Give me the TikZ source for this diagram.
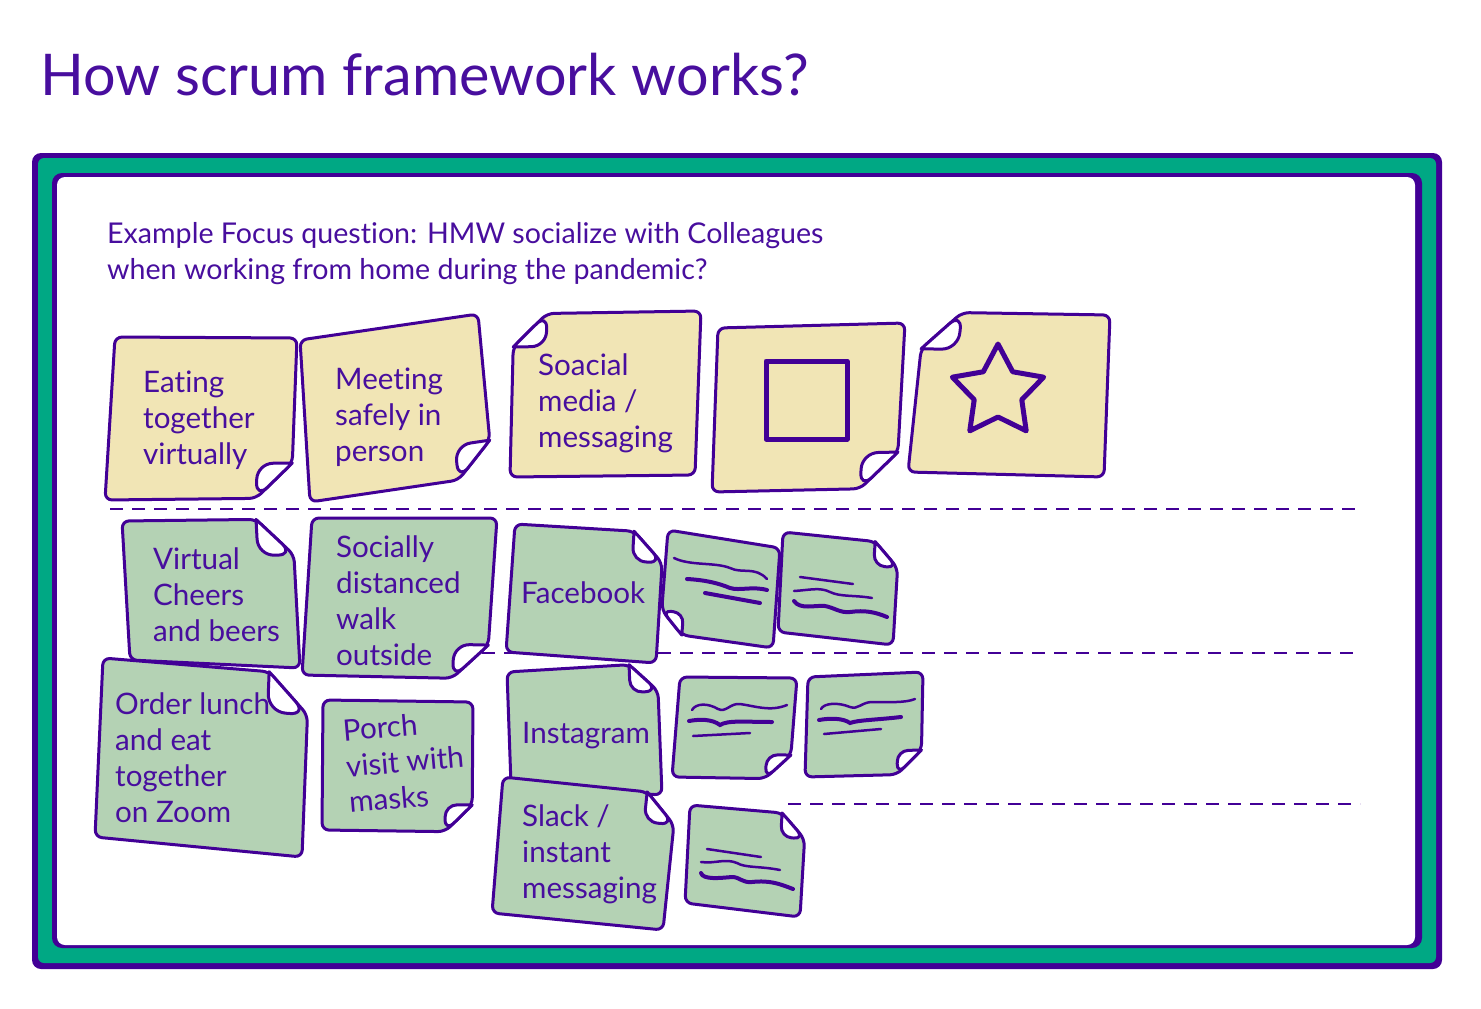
\documentclass[tikz,border=0pt]{standalone}
\usepackage{fontspec}
\setmainfont{Lato}[Ligatures=CommonOff]
\usetikzlibrary{calc}
\definecolor{ink}{RGB}{66,0,150}
\definecolor{txt}{RGB}{72,14,158}
\definecolor{framegreen}{RGB}{0,168,132}
\definecolor{yel}{RGB}{241,229,181}
\definecolor{grn}{RGB}{180,210,180}
\tikzset{
 noteline/.style={draw=ink, line width=3pt, line join=round, rounded corners=7pt},
 flapline/.style={draw=ink, line width=3pt, line join=round, fill=white},
 notetext/.style={text=txt, font=\fontsize{29.6}{36}\selectfont, align=left, anchor=base west, inner sep=0pt},
 squig/.style={draw=ink, line width=2.5pt, line cap=round},
 squigb/.style={draw=ink, line width=4pt, line cap=round},
 divider/.style={draw=ink, line width=2pt, dash pattern=on 13pt off 9pt},
 iconline/.style={draw=ink, line width=5pt, line join=round},
}
\newcommand\stickynote[6]{%
 \coordinate (p1) at #2; \coordinate (p2) at #3; \coordinate (p3) at #4; \coordinate (p4) at #5;
 \coordinate (fa) at ($(p3)!#6pt!(p2)$);
 \coordinate (fb) at ($(p3)!#6pt!(p4)$);
 \coordinate (fc) at ($(fa)+(fb)-(p3)$);
 \pgfmathsetmacro\flaprad{0.45*#6}%
 \path[noteline, fill=#1] (p1) -- (p2) -- (fa) -- (fb) -- (p4) -- cycle;
 \path[flapline] (fa) [rounded corners=\flaprad pt] -- (fc) -- (fb) [sharp corners] -- cycle;
}
\begin{document}
\begin{tikzpicture}[x=1pt,y=-1pt]
\useasboundingbox (0,0) rectangle (1481,1009);
% title
\node[text=txt, font=\fontsize{57.5}{68}\selectfont, anchor=base west, inner sep=0pt] (title) at (40,95) {How scrum framework works?};
% board
\fill[ink, rounded corners=9pt] (32,153) rectangle (1442,969);
\fill[framegreen, rounded corners=6pt] (38,158) rectangle (1436,963);
\fill[ink, rounded corners=10pt] (52,173) rectangle (1422,948);
\fill[white, rounded corners=8pt] (57,177) rectangle (1415,945);
\node[notetext, font=\fontsize{28.6}{36}\selectfont] (focus) at (107,279) {Example Focus question: HMW socialize with Colleagues\\when working from home during the pandemic?};
% dividers
\coordinate (d1a) at (110,509); \coordinate (d1b) at (1355,509);
\coordinate (d2a) at (482,653); \coordinate (d2b) at (1355,653);
\coordinate (d3a) at (788,804); \coordinate (d3b) at (1360,804);
\draw[divider] (d1a) -- (d1b);
\draw[divider] (d2a) -- (d2b);
\draw[divider] (d3a) -- (d3b);
% row 1
\stickynote{yel}{(115,337)}{(297,338)}{(291,498)}{(105,500)}{35}
\node[notetext] (eating) at (143,464) {Eating\\together\\virtually};
\stickynote{yel}{(300,340)}{(478,314)}{(493,475)}{(310,502)}{35}
\node[notetext] (meeting) at (335,461) {Meeting\\safely in\\person};
\stickynote{yel}{(695,475)}{(510,477)}{(514,314)}{(701,311)}{33}
\node[notetext] (soacial) at (538,447) {Soacial\\media /\\messaging};
\stickynote{yel}{(718,328)}{(905,323)}{(896,488)}{(712,492)}{36}
\draw[iconline] (766,361) rectangle (847,439);
\stickynote{yel}{(1104,477)}{(908,472)}{(925,312)}{(1110,315)}{37}
\coordinate (sc) at (998,392);
\draw[iconline] ($(sc)+(-90:48)$) \foreach \a/\r in {-54/25,-18/48,18/25,54/48,90/25,126/48,162/25,198/48,234/25} { -- ($(sc)+(\a:\r)$) } -- cycle;
% row 2
\stickynote{grn}{(130,660)}{(122,521)}{(292,519)}{(300,668)}{36}
\node[notetext] (virtual) at (153,641) {Virtual\\Cheers\\and beers};
\stickynote{grn}{(312,518)}{(497,518)}{(486,679)}{(302,675)}{34}
\node[notetext] (socially) at (336,665) {Socially\\distanced\\walk\\outside};
\stickynote{grn}{(506,652)}{(515,524)}{(664,533)}{(656,663)}{30}
\node[notetext] (facebook) at (521,603) {Facebook};
\stickynote{grn}{(780,548)}{(773,648)}{(660,632)}{(668,530)}{22}
\draw[squig] (674,558) .. controls (690,566) and (715,562) .. (730,568) .. controls (742,574) and (755,566) .. (767,579);
\draw[squigb] (687,579) .. controls (705,580) and (718,583) .. (730,588) .. controls (740,591) and (752,586) .. (767,590);
\draw[squigb] (705,593) -- (760,603);
\stickynote{grn}{(778,632)}{(783,532)}{(899,544)}{(893,645)}{24}
\draw[squig] (800,577) -- (853,584);
\draw[squig] (794,591) .. controls (810,590) and (820,587) .. (830,592) .. controls (840,597) and (855,595) .. (872,598);
\draw[squigb] (794,601) .. controls (800,610) and (815,605) .. (825,606) .. controls (835,608) and (840,613) .. (850,612) .. controls (865,610) and (875,612) .. (887,617);
% row 3
\stickynote{grn}{(95,837)}{(103,658)}{(309,675)}{(302,857)}{40}
\node[notetext] (order) at (115,822) {Order lunch\\and eat\\together\\on Zoom};
\stickynote{grn}{(323,700)}{(473,702)}{(472,832)}{(322,830)}{27}
\node[notetext, rotate=5] (porch) at (350,813) {Porch\\visit with\\masks};
\stickynote{grn}{(511,785)}{(507,672)}{(657,663)}{(662,795)}{28}
\node[notetext] (instagram) at (522,743) {Instagram};
\stickynote{grn}{(680,677)}{(797,678)}{(789,779)}{(672,777)}{24}
\draw[squig] (692,710) .. controls (696,703) and (708,703) .. (718,709) .. controls (726,713) and (730,703) .. (740,704) .. controls (755,706) and (770,712) .. (787,705);
\draw[squigb] (689,721) .. controls (700,719) and (712,719) .. (720,725) .. controls (728,720) and (745,722) .. (772,722);
\draw[squig] (693,736) -- (750,733);
\stickynote{grn}{(808,677)}{(923,672)}{(921,774)}{(805,777)}{24}
\draw[squig] (821,709) .. controls (824,703) and (838,702) .. (850,707) .. controls (858,710) and (862,702) .. (872,702) .. controls (890,702) and (905,703) .. (915,699);
\draw[squigb] (819,720) .. controls (830,718) and (843,718) .. (850,723) .. controls (858,720) and (875,720) .. (901,717);
\draw[squig] (824,734) -- (881,729);
\stickynote{grn}{(492,913)}{(503,777)}{(677,795)}{(663,930)}{30}
\node[notetext] (slack) at (522,898) {Slack /\\instant\\messaging};
\stickynote{grn}{(685,903)}{(690,805)}{(806,815)}{(800,917)}{24}
\draw[squig] (707,849) -- (761,857);
\draw[squig] (701,862) .. controls (715,864) and (725,858) .. (737,863) .. controls (745,868) and (760,866) .. (780,870);
\draw[squigb] (701,873) .. controls (703,880) and (720,878) .. (732,877) .. controls (740,877) and (742,883) .. (752,882) .. controls (770,880) and (780,884) .. (793,889);
\end{tikzpicture}
\end{document}
